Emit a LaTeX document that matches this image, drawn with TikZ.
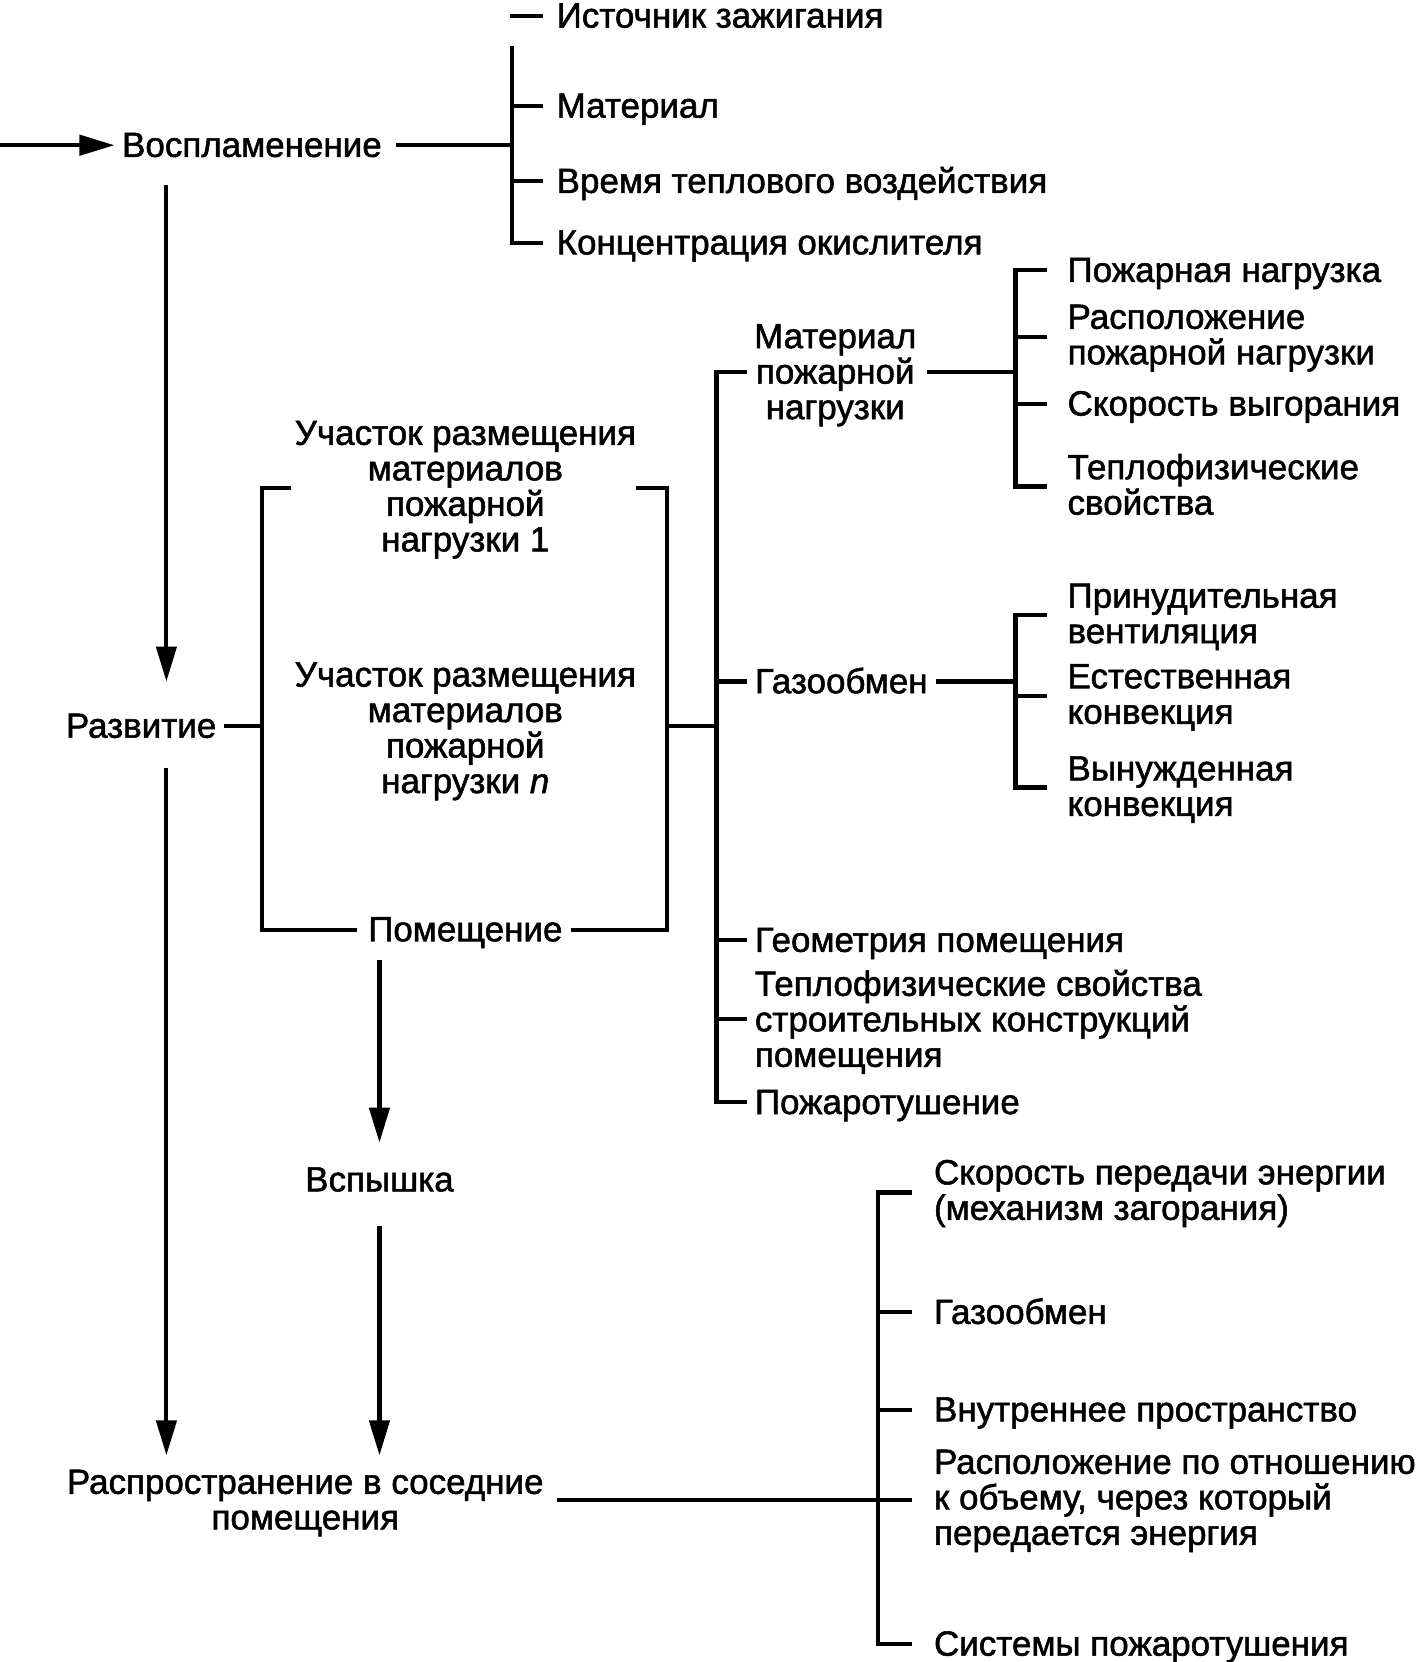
\documentclass[tikz,border=0pt]{standalone}
\usepackage{fontspec}
\setmainfont{Liberation Sans}[FakeBold=1.5]
\usetikzlibrary{arrows.meta}
\newcommand\dfont{\fontsize{33}{33.5}\selectfont}
\begin{document}
\begin{tikzpicture}[x=1pt,y=-1pt,
  ln/.style={line width=3.9pt, line join=miter, line cap=butt},
  arr/.style={ln, -{Triangle[length=33pt,width=19pt]}},
  tl/.style={inner sep=0pt, font=\dfont, anchor=west, align=left, text height=24pt, text depth=0pt},
  tm/.style={inner sep=0pt, font=\dfont, anchor=west, align=left},
  tc/.style={inner sep=0pt, font=\dfont, anchor=center, align=center},
  tc1/.style={inner sep=0pt, font=\dfont, anchor=center, align=center, text height=24pt, text depth=0pt}]
\useasboundingbox (0,0) rectangle (1342,1568);
% --- ignition
\coordinate (start) at (0,137);
\node[tl] (ign) at (115,136) {Воспламенение};
\node[tl] (src) at (525,14) {Источник зажигания};
\node[tl] (mat) at (525,99) {Материал};
\node[tl] (time) at (525,170) {Время теплового воздействия};
\node[tl] (conc) at (525,228) {Концентрация окислителя};
\draw[arr] (start) -- ([xshift=-7pt]ign.west |- start);
\draw[ln] ([xshift=13pt]ign.east |- start) -- (483,137);
\draw[ln] (483,43) -- (483,229) -- ([xshift=-13pt]conc.west |- 0,229);
\draw[ln] (483,100) -- ([xshift=-13pt]mat.west |- 0,100);
\draw[ln] (483,171) -- ([xshift=-13pt]time.west |- 0,171);
\draw[ln] (481,15) -- ([xshift=-13pt]src.west |- 0,15);
% --- development
\node[tl] (dev) at (62,684) {Развитие};
\draw[arr] (157,175) -- (157,643);
\draw[ln] ([xshift=7pt]dev.east |- 0,685) -- (247,685);
\node[tc] (site1) at (439,462) {Участок размещения\\материалов\\пожарной\\нагрузки 1};
\node[tc] (siten) at (439,690) {Участок размещения\\материалов\\пожарной\\нагрузки \textit{n}};
\node[tc1] (room) at (439,876) {Помещение};
\draw[ln] (275,460) -- (247,460) -- (247,877) -- ([xshift=-10pt]room.west |- 0,877);
\draw[ln] ([xshift=8pt]room.east |- 0,877) -- (629,877) -- (629,460) -- (600,460);
\draw[ln] (629,685) -- (676,685);
% --- factors
\node[tc] (lm) at (788,354) {Материал\\пожарной\\нагрузки};
\node[tl] (gas) at (712,642) {Газообмен};
\node[tl] (geom) at (712,886) {Геометрия помещения};
\node[tm] (thermo) at (712,964) {Теплофизические свойства\\строительных конструкций\\помещения};
\node[tl] (ext) at (712,1039) {Пожаротушение};
\draw[ln] ([xshift=-7pt]lm.west |- 0,351) -- (676,351) -- (676,1040) -- ([xshift=-7pt]ext.west |- 0,1040);
\draw[ln] (676,643) -- ([xshift=-7pt]gas.west |- 0,643);
\draw[ln] (676,887) -- ([xshift=-7pt]geom.west |- 0,887);
\draw[ln] (676,961) -- ([xshift=-7pt]thermo.west |- 0,961);
% load material branch
\node[tl] (fl) at (1007,254) {Пожарная нагрузка};
\node[tm] (loc) at (1007,319) {Расположение\\пожарной нагрузки};
\node[tl] (burn) at (1007,380) {Скорость выгорания};
\node[tm] (tp) at (1007,457) {Теплофизические\\свойства};
\draw[ln] ([xshift=10pt]lm.east |- 0,351) -- (958,351);
\draw[ln] ([xshift=-19pt]fl.west |- 0,255) -- (958,255) -- (958,459) -- ([xshift=-19pt]tp.west |- 0,459);
\draw[ln] (958,318) -- ([xshift=-19pt]loc.west |- 0,318);
\draw[ln] (958,381) -- ([xshift=-19pt]burn.west |- 0,381);
% gas exchange branch
\node[tm] (forced) at (1007,582) {Принудительная\\вентиляция};
\node[tm] (natural) at (1007,658) {Естественная\\конвекция};
\node[tm] (induced) at (1007,745) {Вынужденная\\конвекция};
\draw[ln] ([xshift=8pt]gas.east |- 0,643) -- (958,643);
\draw[ln] ([xshift=-19pt]forced.west |- 0,580) -- (958,580) -- (958,743) -- ([xshift=-19pt]induced.west |- 0,743);
\draw[ln] (958,657) -- ([xshift=-19pt]natural.west |- 0,657);
% --- flashover and spread
\node[tc1] (flash) at (358,1112) {Вспышка};
\node[tc] (spread) at (288,1418) {Распространение в соседние\\помещения};
\draw[arr] (358,906) -- (358,1078);
\draw[arr] (358,1157) -- (358,1373);
\draw[arr] (157,725) -- (157,1373);
\node[tm] (rate) at (881,1126) {Скорость передачи энергии\\(механизм загорания)};
\node[tl] (gas2) at (881,1237) {Газообмен};
\node[tl] (inner) at (881,1329) {Внутреннее пространство};
\node[tm] (pos) at (881,1416) {Расположение по отношению\\к объему, через который\\передается энергия};
\node[tl] (sys) at (881,1550) {Системы пожаротушения};
\draw[ln] ([xshift=12pt]spread.east |- 0,1415) -- ([xshift=-21pt]pos.west |- 0,1415);
\draw[ln] ([xshift=-21pt]rate.west |- 0,1125) -- (828,1125) -- (828,1551) -- ([xshift=-21pt]sys.west |- 0,1551);
\draw[ln] (828,1238) -- ([xshift=-21pt]gas2.west |- 0,1238);
\draw[ln] (828,1330) -- ([xshift=-21pt]inner.west |- 0,1330);
\end{tikzpicture}
\end{document}
